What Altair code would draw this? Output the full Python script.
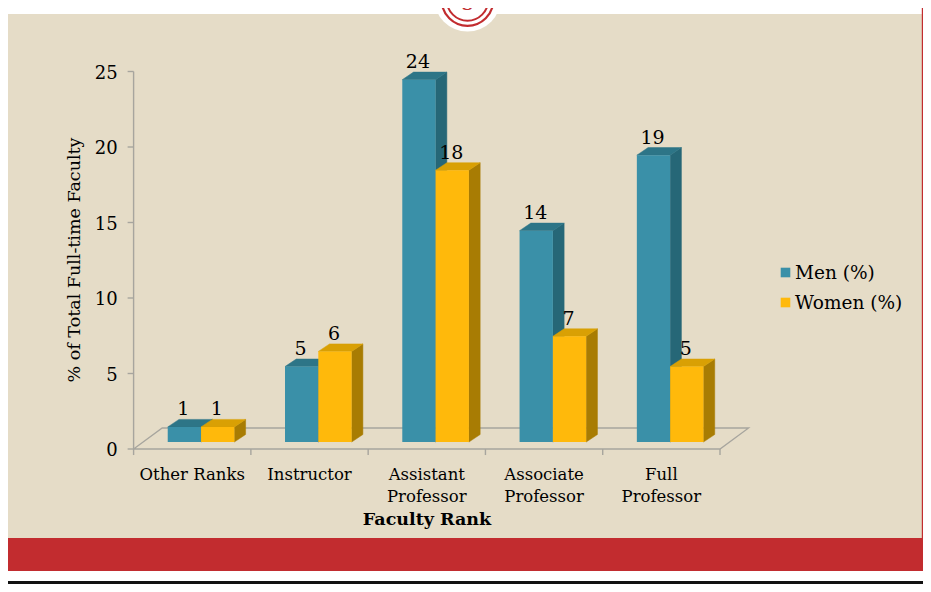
import altair as alt
import pandas as pd

# ---------------- data ----------------
categories = ["Other Ranks", "Instructor", "Assistant\nProfessor", "Associate\nProfessor", "Full\nProfessor"]
men = [1, 5, 24, 14, 19]
women = [1, 6, 18, 7, 5]
series_names = ["Men (%)", "Women (%)"]
y_ticks = [0, 5, 10, 15, 20, 25]

# ---------------- style ----------------
FONT = "DejaVu Serif"
BG = "#e5dcc7"
RED = "#c22c2f"
AXIS = "#a7a59e"
COLORS = {
    "Men (%)": ("#3a90a8", "#2d7587", "#266777"),
    "Women (%)": ("#ffb90b", "#d9a004", "#a87c03"),
}
W, DX, DY, BASE = 0.284, 0.096, 0.5, 0.46   # bar width / depth / floor lift (scale units)
OFFS = {"Men (%)": 0.291, "Women (%)": 0.291 + W}
FDX, FDY = 0.244, 1.39                       # floor depth

xs = alt.Scale(domain=[0, 5], range=[125.6, 712.0], nice=False, zero=False)
ys = alt.Scale(domain=[0, 25], range=[441, 63.5], nice=False, zero=False)

one = pd.DataFrame({"a": [0]})


def box(x1, x2, y1, y2, color):
    return alt.Chart(one).mark_rect(color=color).encode(
        x=alt.value(x1), x2=alt.value(x2), y=alt.value(y1), y2=alt.value(y2))


layers = []
# slide decoration
layers.append(box(0, 915, 0, 576, "white"))
layers.append(box(0, 914, 6, 530, BG))
layers.append(box(913.8, 915, 0, 530, RED))
layers.append(box(0, 915, 530, 563, RED))
layers.append(box(0, 915, 573, 576, "#111111"))
layers.append(alt.Chart(one).mark_point(shape="circle", filled=True, color="white", opacity=1, size=4489)
              .encode(x=alt.value(459.5), y=alt.value(-10)))
layers.append(alt.Chart(one).mark_point(shape="circle", filled=False, color=RED, strokeWidth=2.2, opacity=1, size=2663)
              .encode(x=alt.value(459.5), y=alt.value(-8)))
layers.append(alt.Chart(one).mark_point(shape="circle", filled=False, color=RED, strokeWidth=2, opacity=1, size=1714)
              .encode(x=alt.value(459.5), y=alt.value(-8)))
layers.append(alt.Chart(pd.DataFrame({"t": ["3"]})).mark_text(font=FONT, fontSize=20, color=RED, baseline="middle")
              .encode(x=alt.value(459.5), y=alt.value(-4), text="t:N"))

# floor
floor = pd.DataFrame({
    "k": [0, 5, 5 + FDX, FDX, 0],
    "v": [0, 0, FDY, FDY, 0],
    "o": [0, 1, 2, 3, 4],
})
layers.append(alt.Chart(floor).mark_line(color=AXIS, strokeWidth=1.3).encode(
    x=alt.X("k:Q", scale=xs, axis=None), y=alt.Y("v:Q", scale=ys, axis=None), order="o:Q"))

# y axis
yt = pd.DataFrame({"v": y_ticks, "k0": [0.0] * len(y_ticks), "k1": [-0.051] * len(y_ticks)})
layers.append(alt.Chart(pd.DataFrame({"k": [0], "v0": [0], "v1": [25]})).mark_rule(color=AXIS, strokeWidth=1.4).encode(
    x=alt.X("k:Q", scale=xs, axis=None), y=alt.Y("v0:Q", scale=ys, axis=None), y2="v1:Q"))
layers.append(alt.Chart(yt).mark_rule(color=AXIS, strokeWidth=1.4).encode(
    x=alt.X("k1:Q", scale=xs, axis=None), x2="k0:Q", y=alt.Y("v:Q", scale=ys, axis=None)))
layers.append(alt.Chart(yt).mark_text(font=FONT, fontSize=18, align="right", baseline="middle", dx=-16, dy=2, color="black").encode(
    x=alt.X("k0:Q", scale=xs, axis=None), y=alt.Y("v:Q", scale=ys, axis=None), text="v:Q"))

# x ticks and labels
xt = pd.DataFrame({"k": list(range(6)), "v0": [0] * 6, "v1": [-0.4] * 6})
layers.append(alt.Chart(xt).mark_rule(color=AXIS, strokeWidth=1.4).encode(
    x=alt.X("k:Q", scale=xs, axis=None), y=alt.Y("v0:Q", scale=ys, axis=None), y2="v1:Q"))
xl = pd.DataFrame({"k": [i + 0.5 for i in range(len(categories))], "lab": categories})
layers.append(alt.Chart(xl).mark_text(font=FONT, fontSize=16.5, baseline="top", lineBreak="\n", lineHeight=22, color="black").encode(
    x=alt.X("k:Q", scale=xs, axis=None), y=alt.value(459), text="lab:N"))

# bars
for s, vals in zip(series_names, [men, women]):
    front_c, top_c, side_c = COLORS[s]
    front, side, top = [], [], []
    for i, v in enumerate(vals):
        x0 = i + OFFS[s]
        x1 = x0 + W
        bid = f"{s}-{i}"
        front.append({"x0": x0, "x1": x1, "y0": BASE, "y1": BASE + v, "xc": x0 + W / 2,
                      "yl": BASE + v + DY, "lab": v})
        side.append({"id": bid, "x": x1, "lo": BASE, "hi": BASE + v})
        side.append({"id": bid, "x": x1 + DX, "lo": BASE + DY, "hi": BASE + v + DY})
        top.append({"id": bid, "y": BASE + v, "xa": x0, "xb": x1})
        top.append({"id": bid, "y": BASE + v + DY, "xa": x0 + DX, "xb": x1 + DX})
    front, side, top = pd.DataFrame(front), pd.DataFrame(side), pd.DataFrame(top)
    layers.append(alt.Chart(side).mark_area(orient="vertical", color=side_c, stroke=side_c, strokeWidth=0.5).encode(
        x=alt.X("x:Q", scale=xs, axis=None), y=alt.Y("lo:Q", scale=ys, axis=None), y2="hi:Q", detail="id:N"))
    layers.append(alt.Chart(top).mark_area(orient="horizontal", color=top_c, stroke=top_c, strokeWidth=0.5).encode(
        y=alt.Y("y:Q", scale=ys, axis=None), x=alt.X("xa:Q", scale=xs, axis=None), x2="xb:Q", detail="id:N"))
    layers.append(alt.Chart(front).mark_rect(color=front_c).encode(
        x=alt.X("x0:Q", scale=xs, axis=None), x2="x1:Q", y=alt.Y("y0:Q", scale=ys, axis=None), y2="y1:Q"))
    layers.append(alt.Chart(front).mark_text(font=FONT, fontSize=19, baseline="alphabetic", dy=-4, dx=-1, color="black").encode(
        x=alt.X("xc:Q", scale=xs, axis=None), y=alt.Y("yl:Q", scale=ys, axis=None), text="lab:Q"))

# titles
tt = pd.DataFrame({"t": ["Faculty Rank"]})
layers.append(alt.Chart(tt).mark_text(font=FONT, fontSize=17.5, fontWeight="bold", baseline="middle", color="black").encode(
    x=alt.value(419), y=alt.value(512), text="t:N"))
yt_title = pd.DataFrame({"t": ["% of Total Full-time Faculty"]})
layers.append(alt.Chart(yt_title).mark_text(font=FONT, fontSize=17.5, angle=270, baseline="middle", color="black").encode(
    x=alt.value(67), y=alt.value(252), text="t:N"))

# legend
for j, s in enumerate(series_names):
    yy = 264.5 + 30 * j
    ld = pd.DataFrame({"t": [s]})
    layers.append(alt.Chart(ld).mark_square(color=COLORS[s][0], opacity=1, size=92).encode(
        x=alt.value(777.5), y=alt.value(yy)))
    layers.append(alt.Chart(ld).mark_text(font=FONT, fontSize=18.5, align="left", baseline="middle", color="black").encode(
        x=alt.value(787), y=alt.value(yy), text="t:N"))

chart = alt.layer(*layers).properties(
    width=915, height=576,
    autosize=alt.AutoSizeParams(type="none"),
    padding=0,
    background="white",
).configure_view(stroke=None)

chart.save("out.html", embed_options={"renderer": "svg", "actions": False})
